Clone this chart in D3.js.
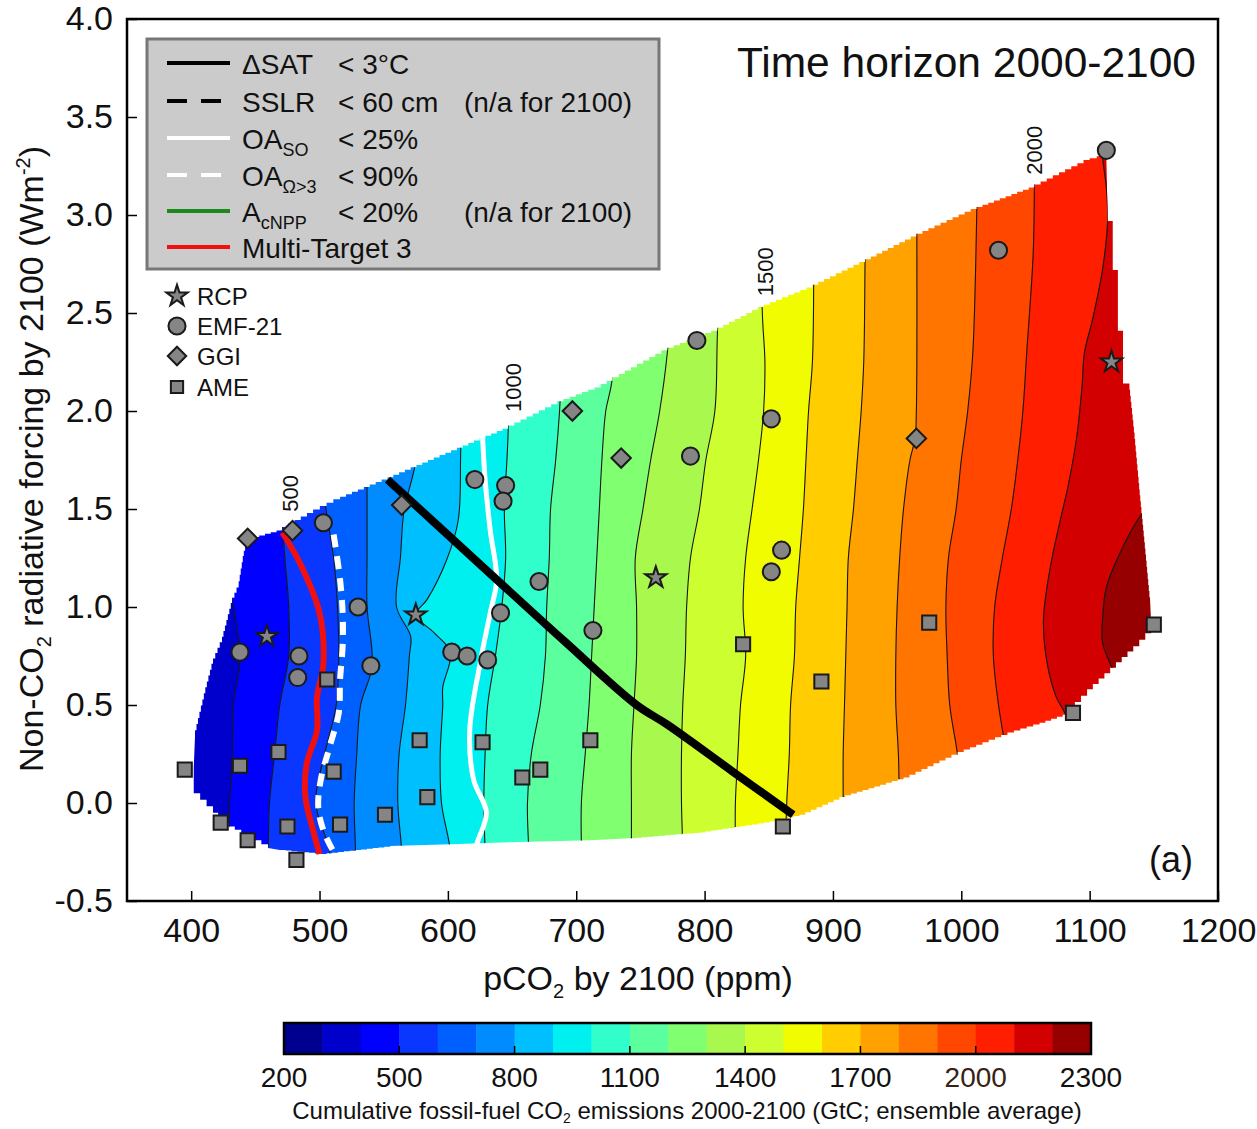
<!DOCTYPE html>
<html lang="en">
	<head>
		<meta charset="utf-8">
		<title>Time horizon 2000-2100</title>
		<script type="text/javascript" src="https://d3js.org/d3.v7.min.js"></script>
		<style type="text/css">
			body { margin: 0; background: #fff; }
			svg text { font-family: "Liberation Sans", Arial, sans-serif; fill: #111; }
		</style>
	</head>
	<body>
		<script type="text/javascript">

			//Width and height
			var w = 1257;
			var h = 1129;

			//Emission levels (GtC) and their colours
			var bandLevels = [200, 300, 400, 500, 600, 700, 800, 900, 1000, 1100, 1200, 1300, 1400, 1500, 1600, 1700, 1800, 1900, 2000, 2100, 2200, 2300];
			var bandColors = ["#00008f", "#0000cd", "#0000ff", "#0a37ff", "#005fff", "#008cff", "#00bfff", "#00f0f0", "#30ffcc", "#5cff9e", "#80ff70", "#a8f84e", "#cdff30", "#f2fc00", "#ffcd00", "#ffa200", "#ff7500", "#ff4700", "#ff1f00", "#d20000", "#960000"];
			var barTicks = [200, 500, 800, 1100, 1400, 1700, 2000, 2300];

			var xTicks = [400, 500, 600, 700, 800, 900, 1000, 1100, 1200];
			var yTicks = [-0.5, 0, 0.5, 1, 1.5, 2, 2.5, 3, 3.5, 4];

			//Contour lines of cumulative emissions, [pCO2, forcing] bottom to top
			var c400 = [[427,-0.6],[429,-0.25],[430,0],[432,0.25],[433,0.5],[438,0.75],[433,1.0],[426,1.25],[418,1.5],[407,2.0],[391,3.6]];
			var c500 = [[459,-0.6],[460,-0.25],[461,0],[465,0.25],[469,0.5],[476,0.75],[476,1.0],[473,1.25],[470,1.5],[463,2.0],[455,3.6]];
			var c600 = [[512,-0.6],[508,-0.25],[497,0],[504,0.25],[513,0.5],[515,0.75],[514,1.0],[511,1.25],[505,1.5],[496,2.0],[485,3.6]];
			var c700 = [[528,-0.6],[528,-0.25],[527,0],[529,0.25],[532,0.5],[541,0.7],[537,1.0],[537,1.25],[537,1.5],[537,2.0],[537,3.6]];
			var c800 = [[565,-0.6],[564,-0.25],[561,0],[562,0.25],[567,0.5],[570,0.75],[571,0.85],[560,1.0],[563,1.25],[566,1.5],[573,1.68],[582,2.0],[594,3.6]];
			var c900 = [[603,-0.6],[602,-0.25],[595,0],[594,0.25],[596,0.5],[596,0.59],[602,0.77],[589,0.87],[575,0.96],[584,1.04],[599,1.24],[608,1.44],[610,1.8],[613,3.6]];
			var c1000 = [[630,-0.6],[629,-0.25],[628,0],[629,0.25],[631,0.5],[637,0.75],[642,1.0],[645,1.25],[644,1.5],[646,1.75],[647,1.9],[652,3.6]];
			var c1100 = [[664,-0.6],[663,-0.25],[662,0],[665,0.25],[672,0.5],[676,0.75],[677,1.0],[679,1.25],[680,1.5],[684,1.75],[687,2.0],[699,3.6]];
			var c1200 = [[704,-0.6],[704,-0.25],[704,0],[707,0.25],[710,0.5],[712,0.75],[714,1.0],[716,1.25],[718,1.5],[720,1.75],[723,2.0],[728,2.16],[742,3.6]];
			var c1300 = [[743,-0.6],[743,-0.25],[743,0],[743,0.25],[745,0.5],[747,0.75],[747,1.0],[746,1.25],[752,1.5],[758,1.75],[765,2.0],[771,2.3],[785,3.6]];
			var c1400 = [[783,-0.6],[783,-0.25],[782,0],[782,0.25],[783,0.5],[785,0.75],[786,1.0],[789,1.25],[796,1.5],[801,1.75],[808,2.0],[810,2.4],[816,3.6]];
			var c1500 = [[824,-0.6],[824,-0.25],[824,0],[826,0.25],[828,0.5],[832,0.75],[830,1.0],[832,1.25],[837,1.5],[842,1.75],[846,2.0],[847,2.25],[845,2.5],[843,3.6]];
			var c1600 = [[863,-0.6],[863,-0.25],[864,0],[866,0.25],[867,0.5],[870,0.75],[871,1.0],[874,1.25],[877,1.5],[879,1.75],[881,2.0],[884,2.25],[885,2.65],[885,3.6]];
			var c1700 = [[908,-0.6],[908,-0.25],[908,0],[908,0.25],[909,0.5],[910,0.75],[911,1.0],[912,1.25],[916,1.5],[919,1.75],[922,2.0],[924,2.25],[925,2.75],[926,3.6]];
			var c1800 = [[956,-0.6],[955,-0.25],[952,0],[951,0.25],[949,0.5],[949,0.75],[950,1.0],[952,1.25],[955,1.5],[960,1.75],[964,1.86],[965,2.0],[965,3.6]];
			var c1900 = [[1011,-0.6],[1007,-0.25],[1001,0],[997,0.25],[991,0.5],[989,0.75],[988,1.0],[990,1.25],[996,1.5],[1000,1.75],[1005,2.0],[1009,2.3],[1012,3.0],[1013,3.6]];
			var c2000 = [[1050,-0.6],[1044,-0.25],[1039,0],[1035,0.25],[1029,0.5],[1025,0.75],[1026,1.0],[1032,1.25],[1039,1.5],[1044,1.75],[1048,2.0],[1051,2.3],[1056,2.8],[1057,3.15],[1058,3.6]];
			var c2100 = [[1116,-0.6],[1104,-0.25],[1095,0],[1088,0.25],[1082,0.44],[1074,0.54],[1067,0.71],[1064,0.93],[1069,1.19],[1077,1.44],[1083,1.61],[1090,1.87],[1094,2.12],[1096,2.3],[1102,2.46],[1110,2.72],[1114,2.97],[1113,3.14],[1110,3.3],[1108,3.6]];
			var c2200 = [[1225,-0.6],[1186,0],[1162,0.25],[1147,0.42],[1127,0.58],[1116,0.71],[1110,0.82],[1110,0.93],[1113,1.1],[1124,1.28],[1137,1.44],[1155,1.6],[1186,2.06],[1233,3.6]];
			var contours = [c400, c500, c600, c700, c800, c900, c1000, c1100, c1200, c1300, c1400, c1500, c1600, c1700, c1800, c1900, c2000, c2100, c2200];

			//Labelled contours: level, pCO2, forcing of the label
			var contourLabels = [[500, 477, 1.58], [1000, 651, 2.12], [1500, 847, 2.71], [2000, 1057, 3.33]];

			//Outline of the ensemble field (clockwise from top left)
			var domainEdge = [[444,1.34],[471,1.39],[495,1.48],[516,1.55],[553,1.65],[607,1.80],[647,1.91],[690,2.05],[719,2.12],[771,2.31],[810,2.41],[846,2.53],[884,2.63],[925,2.76],[965,2.89],[1012,3.03],[1057,3.14],[1100,3.28],[1111,3.30],
				[1113,3.30],[1114,2.99],[1118,2.97],[1118,2.74],[1122,2.72],[1122,2.43],[1126,2.41],[1126,2.16],[1131,2.14],[1135,1.89],[1139,1.60],[1143,1.33],[1147,1.05],[1148,0.90],
				[1134,0.80],[1116,0.69],[1098,0.58],[1079,0.45],[1061,0.41],[1036,0.36],[997,0.26],[955,0.13],[905,0.03],[874,-0.06],[846,-0.10],[796,-0.15],[742,-0.18],[711,-0.19],[648,-0.20],[602,-0.21],[555,-0.22],[501,-0.26],[469,-0.24],[460,-0.23],
				[444,-0.17],[429,-0.12],[417,-0.05],[402,0.05],[402,0.18],[403,0.34],[411,0.56],[417,0.71],[424,0.82],[432,1.02],[437,1.10],[441,1.26]];

			//Target lines
			var sat3 = [[553,1.65],[633,1.17],[690,0.83],[747,0.5],[771,0.4],[822,0.16],[869,-0.06]];
			var oaSO = [[627,1.87],[629,1.65],[633,1.39],[638,1.14],[633,0.97],[625,0.71],[617,0.37],[620,0.12],[630,-0.05],[623,-0.2],[621,-0.25]];
			var oaOmega = [[511,1.37],[516,1.14],[518,0.97],[518,0.8],[516,0.63],[515,0.46],[508,0.29],[501,0.12],[499,-0.02],[503,-0.14],[511,-0.25]];
			var multiTarget = [[471,1.38],[485,1.22],[500,0.97],[503,0.71],[498,0.54],[498,0.37],[490,0.2],[489,0.03],[495,-0.14],[500,-0.26]];

			//Scenarios [pCO2, forcing]
			var rcp = [[459,0.85],[575,0.96],[762,1.15],[1117,2.25]];
			var emf21 = [[1113,3.33],[1029,2.82],[794,2.36],[852,1.96],[789,1.77],[621,1.65],[645,1.62],[643,1.54],[503,1.43],[860,1.29],[852,1.18],[671,1.13],[530,1.00],[641,0.97],[713,0.88],[438,0.77],[484,0.75],[483,0.64],[540,0.70],[603,0.77],[615,0.75],[631,0.73]];
			var ggi = [[444,1.35],[479,1.39],[564,1.52],[697,2.00],[735,1.76],[965,1.86]];
			var ame = [[395,0.17],[438,0.19],[468,0.26],[506,0.63],[511,0.16],[423,-0.10],[444,-0.19],[475,-0.12],[482,-0.29],[516,-0.11],[551,-0.06],[578,0.32],[584,0.03],[627,0.31],[658,0.13],[672,0.17],[711,0.32],[830,0.81],[891,0.62],[861,-0.12],[975,0.92],[1087,0.46],[1150,0.91]];

			//Scales
			var x = d3.scaleLinear().domain([350, 1200]).range([127, 1218]);
			var y = d3.scaleLinear().domain([-0.5, 4]).range([901, 19]);
			var cb = d3.scaleLinear().domain([200, 2300]).range([284, 1091]);

			var smooth = d3.line()
			               .x(function(d) { return x(d[0]); })
			               .y(function(d) { return y(d[1]); })
			               .curve(d3.curveCatmullRom.alpha(0.5));

			//grid cells make the field edge stepped
			function stairs(pts, step) {
				var out = [pts[0]];
				for (var i = 1; i <= pts.length; i++) {
					var p = pts[i - 1], q = pts[i % pts.length];
					var dx = q[0] - p[0], dy = q[1] - p[1];
					if (Math.abs(dx) < 2 || Math.abs(dy) < 2) { out.push(q); continue; }
					var n = Math.max(1, Math.round(Math.max(Math.abs(dx), Math.abs(dy)) / step));
					for (var k = 1; k <= n; k++) {
						out.push([p[0] + dx * (k - 1) / n, p[1] + dy * k / n]);
						out.push([p[0] + dx * k / n, p[1] + dy * k / n]);
					}
				}
				return out;
			}

			//Create SVG element
			var svg = d3.select("body")
						.append("svg")
						.attr("width", w)
						.attr("height", h);

			var edgePx = domainEdge.map(function(d) { return [x(d[0]), y(d[1])]; });
			svg.append("defs").append("clipPath").attr("id", "field")
			   .append("path").attr("d", "M" + stairs(edgePx, 6).join("L") + "Z");

			//Filled bands between contours
			var edges = [[[300, -0.6], [300, 3.6]]].concat(contours, [[[1300, -0.6], [1300, 3.6]]]);
			var field = svg.append("g").attr("clip-path", "url(#field)");
			field.selectAll("path.band")
			     .data(d3.range(edges.length - 1))
			     .enter()
			     .append("path")
			     .attr("class", "band")
			     .attr("d", function(i) {
			     	return smooth(edges[i]) + smooth(edges[i + 1].slice().reverse()).replace("M", "L") + "Z";
			     })
			     .attr("fill", function(i) { return bandColors[i + 1]; })
			     .attr("stroke", function(i) { return bandColors[i + 1]; })
			     .attr("stroke-width", 0.6);

			field.selectAll("path.iso")
			     .data(contours)
			     .enter()
			     .append("path")
			     .attr("class", "iso")
			     .attr("d", smooth)
			     .attr("fill", "none")
			     .attr("stroke", "#151515")
			     .attr("stroke-width", 1.1);

			//Target lines
			svg.append("path").datum(oaSO).attr("d", smooth)
			   .attr("fill", "none").attr("stroke", "#fff").attr("stroke-width", 5);
			svg.append("path").datum(oaOmega).attr("d", smooth)
			   .attr("fill", "none").attr("stroke", "#fff").attr("stroke-width", 6).attr("stroke-dasharray", "13,9");
			svg.append("path").datum(multiTarget).attr("d", smooth)
			   .attr("fill", "none").attr("stroke", "#f01010").attr("stroke-width", 6);
			svg.append("path").datum(sat3).attr("d", smooth)
			   .attr("fill", "none").attr("stroke", "#000").attr("stroke-width", 8);

			//Scenario markers
			var markFill = "#858585", markStroke = "#1a1a1a";
			function marks(data, type, size, angle) {
				svg.append("g").selectAll("path")
				   .data(data)
				   .enter()
				   .append("path")
				   .attr("d", d3.symbol().type(type).size(size))
				   .attr("transform", function(d) { return "translate(" + x(d[0]) + "," + y(d[1]) + ") rotate(" + angle + ")"; })
				   .attr("fill", markFill)
				   .attr("stroke", markStroke)
				   .attr("stroke-width", 2);
			}
			marks(ame, d3.symbolSquare, 200, 0);
			marks(ggi, d3.symbolSquare, 190, 45);
			marks(emf21, d3.symbolCircle, 230, 0);
			marks(rcp, d3.symbolStar, 140, 0);

			//Contour labels
			svg.selectAll("text.clab")
			   .data(contourLabels)
			   .enter()
			   .append("text")
			   .attr("transform", function(d) { return "translate(" + x(d[1]) + "," + y(d[2]) + ") rotate(-90)"; })
			   .attr("text-anchor", "middle")
			   .attr("dy", "0.36em")
			   .style("font-size", "22px")
			   .text(function(d) { return d[0]; });

			//Axes
			var xAxis = svg.append("g")
			               .attr("transform", "translate(0,901)")
			               .call(d3.axisBottom(x).tickValues(xTicks).tickSizeInner(-10).tickSizeOuter(0).tickPadding(17).tickFormat(d3.format("d")));
			var yAxis = svg.append("g")
			               .attr("transform", "translate(127,0)")
			               .call(d3.axisLeft(y).tickValues(yTicks).tickSizeInner(-10).tickSizeOuter(0).tickPadding(14).tickFormat(function(d) { return d.toFixed(1); }));
			[xAxis, yAxis].forEach(function(a) {
				a.select(".domain").remove();
				a.selectAll(".tick line").attr("stroke", "#000").attr("stroke-width", 1.5);
				a.selectAll(".tick text").style("font-size", "34px").attr("fill", "#111").style("font-family", "Liberation Sans, Arial, sans-serif");
			});

			svg.append("rect")
			   .attr("x", 127).attr("y", 19).attr("width", 1091).attr("height", 882)
			   .attr("fill", "none").attr("stroke", "#000").attr("stroke-width", 2.5);

			//Axis titles
			var xt = svg.append("text").attr("x", 638).attr("y", 990).attr("text-anchor", "middle").style("font-size", "34px");
			xt.append("tspan").text("pCO");
			xt.append("tspan").attr("dy", 8).style("font-size", "20px").text("2");
			xt.append("tspan").attr("dy", -8).text(" by 2100 (ppm)");

			var yt = svg.append("text").attr("transform", "translate(43,459) rotate(-90)").attr("text-anchor", "middle").style("font-size", "34px");
			yt.append("tspan").text("Non-CO");
			yt.append("tspan").attr("dy", 8).style("font-size", "20px").text("2");
			yt.append("tspan").attr("dy", -8).text(" radiative forcing by 2100 (Wm");
			yt.append("tspan").attr("dy", -13).style("font-size", "20px").text("-2");
			yt.append("tspan").attr("dy", 13).text(")");

			svg.append("text").attr("x", 1196).attr("y", 77).attr("text-anchor", "end").style("font-size", "42.5px").text("Time horizon 2000-2100");
			svg.append("text").attr("x", 1193).attr("y", 872).attr("text-anchor", "end").style("font-size", "36px").text("(a)");

			//Target legend
			svg.append("rect").attr("x", 147).attr("y", 39).attr("width", 512).attr("height", 230)
			   .attr("fill", "#cbcbcb").attr("stroke", "#777").attr("stroke-width", 3);
			var rows = [63, 101, 138, 175, 211, 247];
			var legendLines = [
				{color: "#000", dash: null},
				{color: "#000", dash: "20,14"},
				{color: "#fff", dash: null},
				{color: "#fff", dash: "20,14"},
				{color: "#1b8a1b", dash: null},
				{color: "#f01010", dash: null}
			];
			legendLines.forEach(function(l, i) {
				svg.append("line").attr("x1", 167).attr("x2", 230).attr("y1", rows[i]).attr("y2", rows[i])
				   .attr("stroke", l.color).attr("stroke-width", 4).attr("stroke-dasharray", l.dash);
			});
			function legendText(row, xPos, main, sub) {
				var t = svg.append("text").attr("x", xPos).attr("y", rows[row] + 11).style("font-size", "28px");
				t.append("tspan").text(main);
				if (sub) t.append("tspan").attr("dy", 7).style("font-size", "18px").text(sub);
			}
			legendText(0, 242, "\u0394SAT");
			legendText(1, 242, "SSLR");
			legendText(2, 242, "OA", "SO");
			legendText(3, 242, "OA", "\u03a9>3");
			legendText(4, 242, "A", "cNPP");
			legendText(5, 242, "Multi-Target 3");
			legendText(0, 338, "< 3\u00b0C");
			legendText(1, 338, "< 60 cm");
			legendText(2, 338, "< 25%");
			legendText(3, 338, "< 90%");
			legendText(4, 338, "< 20%");
			legendText(1, 464, "(n/a for 2100)");
			legendText(4, 464, "(n/a for 2100)");

			//Scenario legend
			var symRows = [
				{type: d3.symbolStar, size: 140, angle: 0, name: "RCP", y: 296},
				{type: d3.symbolCircle, size: 230, angle: 0, name: "EMF-21", y: 326},
				{type: d3.symbolSquare, size: 170, angle: 45, name: "GGI", y: 356},
				{type: d3.symbolSquare, size: 150, angle: 0, name: "AME", y: 387}
			];
			symRows.forEach(function(s) {
				svg.append("path").attr("d", d3.symbol().type(s.type).size(s.size)())
				   .attr("transform", "translate(177," + s.y + ") rotate(" + s.angle + ")")
				   .attr("fill", markFill).attr("stroke", markStroke).attr("stroke-width", 2);
				svg.append("text").attr("x", 197).attr("y", s.y + 9).style("font-size", "24px").text(s.name);
			});

			//Colour bar
			var bar = svg.append("g");
			bar.selectAll("rect")
			   .data(bandColors)
			   .enter()
			   .append("rect")
			   .attr("x", function(d, i) { return cb(bandLevels[i]); })
			   .attr("width", function(d, i) { return cb(bandLevels[i + 1]) - cb(bandLevels[i]) + 0.5; })
			   .attr("y", 1023)
			   .attr("height", 31)
			   .attr("fill", function(d) { return d; });
			bar.selectAll("line")
			   .data(barTicks.slice(1, -1))
			   .enter()
			   .append("line")
			   .attr("x1", function(d) { return cb(d); })
			   .attr("x2", function(d) { return cb(d); })
			   .attr("y1", 1054).attr("y2", 1046)
			   .attr("stroke", "#000").attr("stroke-width", 1.5);
			bar.append("rect").attr("x", 284).attr("y", 1023).attr("width", 807).attr("height", 31)
			   .attr("fill", "none").attr("stroke", "#000").attr("stroke-width", 2.5);
			bar.selectAll("text")
			   .data(barTicks)
			   .enter()
			   .append("text")
			   .attr("x", function(d) { return cb(d); })
			   .attr("y", 1087)
			   .attr("text-anchor", "middle")
			   .style("font-size", "28px")
			   .style("fill", function(d) { return d === 2000 ? "#3a2212" : "#111"; })
			   .text(function(d) { return d; });

			var ct = svg.append("text").attr("x", 687).attr("y", 1119).attr("text-anchor", "middle").style("font-size", "24px");
			ct.append("tspan").text("Cumulative fossil-fuel CO");
			ct.append("tspan").attr("dy", 4).style("font-size", "14px").text("2");
			ct.append("tspan").attr("dy", -4).text(" emissions 2000-2100 (GtC; ensemble average)");

		</script>
	</body>
</html>
